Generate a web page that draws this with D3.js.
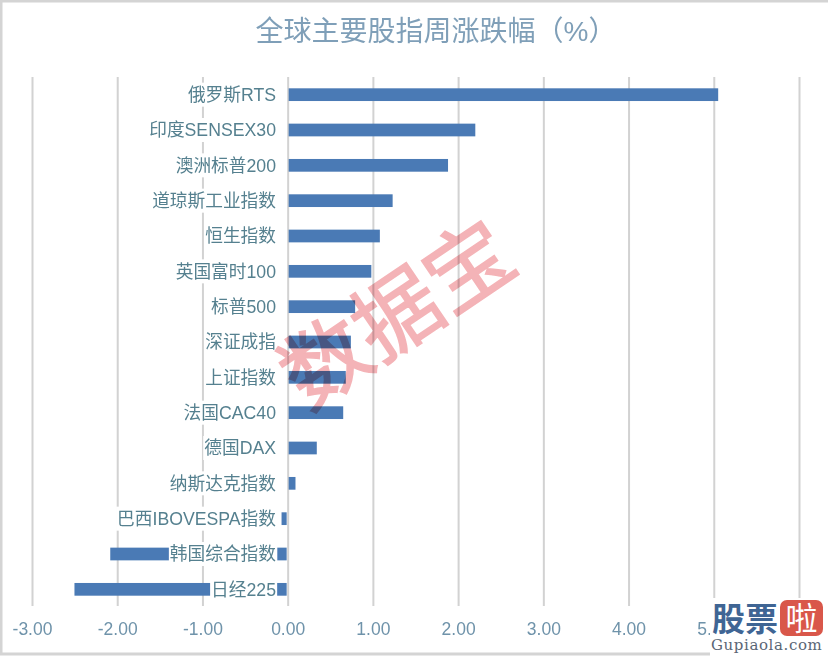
<!DOCTYPE html>
<html>
<head>
<meta charset="utf-8">
<script src="https://cdn.jsdelivr.net/npm/d3@7"></script>
<style>
  html, body { margin: 0; padding: 0; background: #fff; }
  svg { display: block; }
  text { font-family: "Liberation Sans", "Noto Sans CJK SC", sans-serif; }
</style>
</head>
<body>
<div id="chart"></div>
<script>
const titleText = "全球主要股指周涨跌幅（%）";
const categories = ["俄罗斯RTS", "印度SENSEX30", "澳洲标普200", "道琼斯工业指数", "恒生指数",
  "英国富时100", "标普500", "深证成指", "上证指数", "法国CAC40", "德国DAX",
  "纳斯达克指数", "巴西IBOVESPA指数", "韩国综合指数", "日经225"];
const changes = [5.04, 2.19, 1.87, 1.22, 1.07, 0.97, 0.78, 0.73, 0.67, 0.64, 0.33, 0.08, -0.06, -2.07, -2.49];
const ticks = [-3, -2, -1, 0, 1, 2, 3, 4, 5, 6];

const width = 828, height = 656;
const svg = d3.select("#chart").append("svg")
  .attr("width", width)
  .attr("height", height);

svg.append("rect")
  .attr("width", width)
  .attr("height", height)
  .attr("fill", "#ffffff");

// grey frame of the screenshot
svg.append("path")
  .attr("d", `M1 653V1H${width}M0 654H${width}`)
  .attr("fill", "none")
  .attr("stroke", "#d4d4d4")
  .attr("stroke-width", 3);

svg.append("text")
  .attr("x", 436)
  .attr("y", 41)
  .attr("text-anchor", "middle")
  .attr("font-size", 28)
  .attr("fill", "#7f9fb8")
  .text(titleText);

const x = d3.scaleLinear().domain([-3, 6]).range([32, 799]);
const y = d3.scaleBand().domain(categories).range([77, 607]).paddingInner(0.64).paddingOuter(0.32);

// the 6.00 label is hidden behind the logo in the reference
const xAxis = svg.append("g")
  .attr("transform", "translate(0,606)")
  .call(d3.axisBottom(x).tickValues(ticks).tickSize(-529).tickPadding(17)
    .tickFormat(d => d === 6 ? "" : d.toFixed(2)));
xAxis.select(".domain").remove();
xAxis.selectAll("line")
  .attr("stroke", "#d2d2d2")
  .attr("stroke-width", 2);
xAxis.selectAll("text")
  .attr("font-size", 17.5)
  .attr("fill", "#6f93aa");

svg.append("g").selectAll("rect")
  .data(changes)
  .join("rect")
  .attr("x", d => x(Math.min(0, d)) + (d > 0 ? 1 : -1))
  .attr("y", (d, i) => y(categories[i]))
  .attr("width", d => Math.abs(x(d) - x(0)))
  .attr("height", y.bandwidth())
  .attr("fill", "#4a7ab5");

// labels sit on white boxes that cut through bars and gridlines
const labels = svg.append("g").selectAll("g")
  .data(categories)
  .join("g")
  .attr("transform", d => `translate(276,${y(d) + y.bandwidth() / 2})`);
const labelText = labels.append("text")
  .attr("text-anchor", "end")
  .attr("dy", "0.36em")
  .attr("font-size", 17.7)
  .attr("fill", "#55808f")
  .text(d => d);
labelText.each(function () {
  const b = this.getBBox();
  d3.select(this.parentNode).insert("rect", "text")
    .attr("x", b.x - 1)
    .attr("y", -12)
    .attr("width", b.width + 2)
    .attr("height", 24)
    .attr("fill", "#ffffff");
});

// watermark
svg.append("text")
  .attr("transform", "translate(397,314) rotate(-34)")
  .attr("text-anchor", "middle")
  .attr("dy", "0.36em")
  .attr("font-size", 86)
  .attr("fill", "#f2a6aa")
  .attr("stroke", "#f2a6aa")
  .attr("stroke-width", 1.5)
  .attr("opacity", 0.85)
  .style("mix-blend-mode", "multiply")
  .text("数据宝");

// site logo, bottom right
const logo = svg.append("g");
logo.append("rect")
  .attr("x", 710)
  .attr("y", 598)
  .attr("width", 118)
  .attr("height", 58)
  .attr("fill", "#ffffff");
logo.append("text")
  .attr("x", 712)
  .attr("y", 631)
  .attr("font-size", 33)
  .attr("font-weight", "bold")
  .attr("fill", "#3f6594")
  .text("股票");
logo.append("rect")
  .attr("x", 780)
  .attr("y", 600)
  .attr("width", 43)
  .attr("height", 36)
  .attr("rx", 7)
  .attr("fill", "#d9574a");
logo.append("text")
  .attr("x", 801.5)
  .attr("y", 630)
  .attr("text-anchor", "middle")
  .attr("font-size", 32)
  .attr("fill", "#ffffff")
  .text("啦");
logo.append("text")
  .attr("x", 711)
  .attr("y", 650)
  .attr("font-size", 15)
  .attr("letter-spacing", 0.6)
  .attr("fill", "#5a6675")
  .style("font-family", "'DejaVu Serif', serif")
  .text("Gupiaola.com");
</script>
</body>
</html>
